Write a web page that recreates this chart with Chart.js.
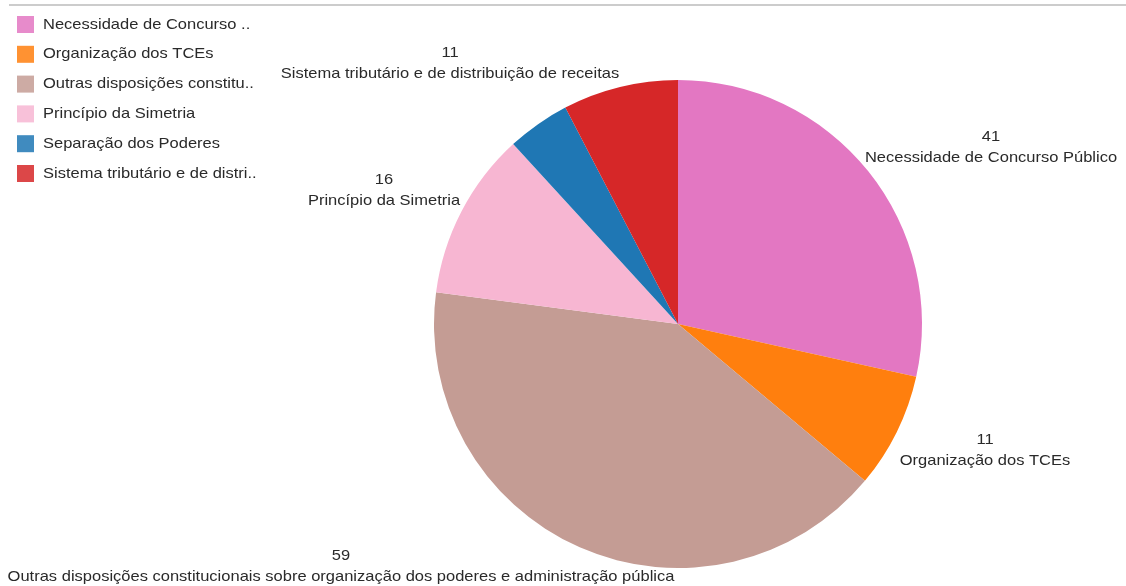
<!DOCTYPE html>
<html lang="pt">
<head>
<meta charset="utf-8">
<title>Temas</title>
<script src="https://cdn.jsdelivr.net/npm/chart.js@4/dist/chart.umd.min.js"></script>
<style>
  html, body { margin: 0; padding: 0; background: #fff; }
  #wrap { position: relative; width: 1126px; height: 586px; }
</style>
</head>
<body>
<div id="wrap"><canvas id="chart" width="1126" height="586"></canvas></div>
<script>
const categories = [
  "Necessidade de Concurso Público",
  "Organização dos TCEs",
  "Outras disposições constitucionais sobre organização dos poderes e administração pública",
  "Princípio da Simetria",
  "Separação dos Poderes",
  "Sistema tributário e de distribuição de receitas"
];
const legendNames = [
  "Necessidade de Concurso ..",
  "Organização dos TCEs",
  "Outras disposições constitu..",
  "Princípio da Simetria",
  "Separação dos Poderes",
  "Sistema tributário e de distri.."
];
const counts = [41, 11, 59, 16, 6, 11];
const showLabel = [true, true, true, true, false, true];

const COLORS = ["#e377c2", "#ff7f0e", "#c49c94", "#f7b6d2", "#1f77b4", "#d62728"];
const FONT = "15px Arial, 'Liberation Sans', sans-serif";
const STRETCH = 1.1; // text is set a little wide

// where each slice's value/name pair sits (centre of the text block)
const LABEL_AT = [
  [991, 148], [985, 451], [341, 567], [384, 191], null, [450, 64]
];

function wideText(ctx, text, x, y) {
  ctx.save();
  ctx.translate(x, y);
  ctx.scale(STRETCH, 1);
  ctx.fillText(text, 0, 0);
  ctx.restore();
}

const outsideLabels = {
  id: "outsideLabels",
  afterDraw(chart) {
    const ctx = chart.ctx;
    ctx.save();
    ctx.fillStyle = "#2a2a2a";
    ctx.font = FONT;
    ctx.textAlign = "center";
    ctx.textBaseline = "middle";
    counts.forEach((v, i) => {
      if (!showLabel[i] || !LABEL_AT[i]) return;
      const [x, y] = LABEL_AT[i];
      wideText(ctx, String(v), x, y - 11);
      wideText(ctx, categories[i], x, y + 10);
    });
    ctx.restore();
  }
};

const sideLegend = {
  id: "sideLegend",
  afterDraw(chart) {
    const ctx = chart.ctx;
    ctx.save();
    // thin rule along the top
    ctx.fillStyle = "#cccccc";
    ctx.fillRect(9, 4, 1117, 2);
    ctx.font = FONT;
    ctx.textBaseline = "middle";
    ctx.textAlign = "left";
    legendNames.forEach((name, i) => {
      const y = 24.5 + i * 29.8;
      ctx.globalAlpha = 0.85;
      ctx.fillStyle = COLORS[i];
      ctx.fillRect(17, y - 8.5, 17, 17);
      ctx.globalAlpha = 1;
      ctx.fillStyle = "#2a2a2a";
      wideText(ctx, name, 43, y);
    });
    ctx.restore();
  }
};

new Chart(document.getElementById("chart").getContext("2d"), {
  type: "pie",
  data: {
    labels: categories,
    datasets: [{
      data: counts,
      backgroundColor: COLORS,
      borderWidth: 0
    }]
  },
  options: {
    responsive: false,
    animation: false,
    layout: { padding: { left: 434, right: 204, top: 80, bottom: 18 } },
    plugins: {
      legend: { display: false },
      tooltip: { enabled: false }
    }
  },
  plugins: [outsideLabels, sideLegend]
});
</script>
</body>
</html>
